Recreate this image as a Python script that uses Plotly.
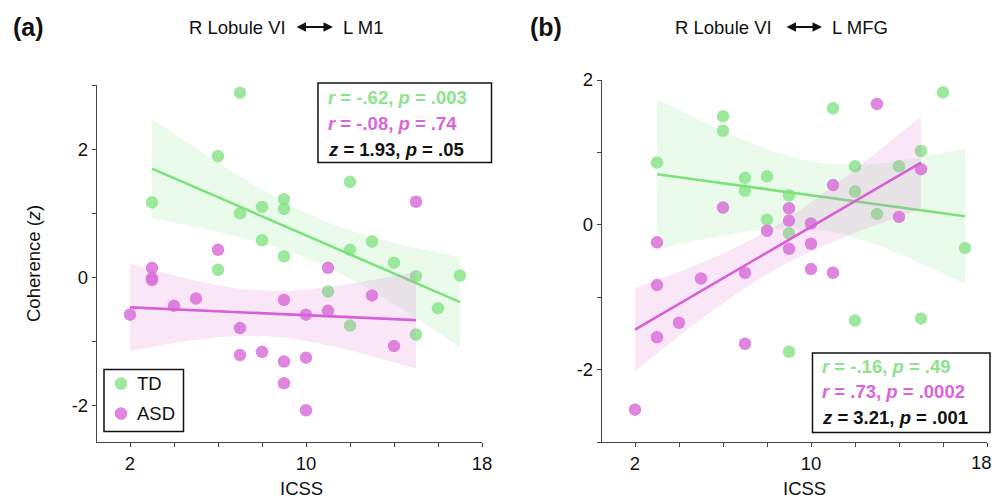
import numpy as np
import plotly.graph_objects as go

# ---------------- data ----------------
# Panel (a): R Lobule VI <-> L M1
a_td_x = [7, 6, 3, 7, 8, 9, 9, 12, 8, 9, 6, 12, 13, 14, 15, 17, 11, 16, 12, 15]
a_td_y = [2.88, 1.89, 1.17, 1.00, 1.10, 1.22, 1.07, 1.49, 0.58, 0.33, 0.12, 0.43, 0.56, 0.23, 0.02, 0.03, -0.22, -0.48, -0.75, -0.89]
a_asd_x = [2, 3, 3, 3, 4, 5, 6, 7, 7, 8, 9, 9, 9, 10, 10, 10, 11, 11, 13, 14, 15]
a_asd_y = [-0.58, 0.15, -0.01, -0.04, -0.44, -0.33, 0.43, -0.79, -1.21, -1.16, -0.35, -1.31, -1.65, -0.58, -1.25, -2.07, 0.15, -0.52, -0.28, -1.07, 1.18]

# Panel (b): R Lobule VI <-> L MFG
b_td_x = [3, 6, 6, 7, 7, 8, 8, 9, 9, 9, 11, 12, 12, 12, 13, 14, 15, 15, 16, 17]
b_td_y = [0.86, 1.50, 1.30, 0.65, 0.47, 0.67, 0.07, 0.41, -0.12, -1.75, 1.61, 0.81, 0.46, -1.32, 0.15, 0.81, 1.02, -1.29, 1.83, -0.32]
b_asd_x = [2, 3, 3, 3, 4, 5, 6, 7, 7, 8, 9, 9, 9, 10, 10, 10, 11, 11, 13, 14, 15]
b_asd_y = [-2.55, -0.24, -0.83, -1.55, -1.35, -0.74, 0.24, -0.66, -1.64, -0.08, 0.23, 0.06, -0.33, 0.02, -0.26, -0.61, 0.55, -0.66, 1.67, 0.11, 0.77]

groups = ["TD", "ASD"]
titles_left = ["R Lobule VI", "R Lobule VI"]
titles_right = ["L M1", "L MFG"]
panel_labels = ["(a)", "(b)"]
stats_a = ["<i>r</i> = -.62, <i>p</i> = .003", "<i>r</i> = -.08, <i>p</i> = .74", "<i>z</i> = 1.93, <i>p</i> = .05"]
stats_b = ["<i>r</i> = -.16, <i>p</i> = .49", "<i>r</i> = .73, <i>p</i> = .0002", "<i>z</i> = 3.21, <i>p</i> = .001"]
x_ticks = [2, 4, 6, 8, 10, 12, 14, 16, 18]
x_ticktext = ["2", "", "", "", "10", "", "", "", "18"]
x2_ticktext = ["2", "", "", "", "10", "", "", "", ""]   # "18" placed at the page edge below
ya_ticks = [-2, -1, 0, 1, 2, 3]
ya_ticktext = ["-2", "", "0", "", "2", ""]
yb_ticks = [-3, -2, -1, 0, 1, 2]
yb_ticktext = ["", "-2", "", "0", "", "2"]

# ---------------- style ----------------
W, H = 994, 500
FONT = "Liberation Sans, Arial, sans-serif"
FS = 18.5
C_TD_PT = "rgba(140,228,140,0.85)"
C_ASD_PT = "rgba(218,112,218,0.85)"
C_TD_LINE = "rgb(125,225,125)"
C_ASD_LINE = "rgb(214,96,214)"
C_TD_BAND = "rgba(144,232,144,0.18)"
C_ASD_BAND = "rgba(218,112,214,0.17)"
C_TD_TXT = "rgb(140,228,140)"
C_ASD_TXT = "rgb(218,100,218)"
AX = "#444444"


def px(x):
    return x / W


def py(y):
    return 1 - y / H


def fit_band(x, y, tval=2.1):
    x = np.asarray(x, float)
    y = np.asarray(y, float)
    n = len(x)
    b, a = np.polyfit(x, y, 1)
    xs = np.linspace(x.min(), x.max(), 100)
    yh = a + b * xs
    res = y - (a + b * x)
    s = np.sqrt(np.sum(res ** 2) / (n - 2))
    sxx = np.sum((x - x.mean()) ** 2)
    se = s * np.sqrt(1.0 / n + (xs - x.mean()) ** 2 / sxx)
    return xs, yh, yh - tval * se, yh + tval * se


fig = go.Figure()

panels = [
    ("x", "y", [(a_td_x, a_td_y), (a_asd_x, a_asd_y)]),
    ("x2", "y2", [(b_td_x, b_td_y), (b_asd_x, b_asd_y)]),
]
pt_cols = [C_TD_PT, C_ASD_PT]
line_cols = [C_TD_LINE, C_ASD_LINE]
band_cols = [C_TD_BAND, C_ASD_BAND]

for xa, ya, series in panels:
    for gi, (xv, yv) in enumerate(series):
        xs, yh, lo, hi = fit_band(xv, yv)
        fig.add_trace(go.Scatter(x=xv, y=yv, mode="markers", xaxis=xa, yaxis=ya,
                                 marker=dict(size=12.5, color=pt_cols[gi], line=dict(width=0)),
                                 showlegend=False, hoverinfo="skip"))
        fig.add_trace(go.Scatter(x=np.concatenate([xs, xs[::-1]]), y=np.concatenate([hi, lo[::-1]]),
                                 mode="lines", fill="toself", fillcolor=band_cols[gi],
                                 line=dict(width=0), xaxis=xa, yaxis=ya,
                                 showlegend=False, hoverinfo="skip"))
        fig.add_trace(go.Scatter(x=xs, y=yh, mode="lines", xaxis=xa, yaxis=ya,
                                 line=dict(color=line_cols[gi], width=2.6),
                                 showlegend=False, hoverinfo="skip"))

axis_common = dict(showline=True, linecolor=AX, linewidth=1.3, ticks="outside", ticklen=4,
                   tickwidth=1.2, tickcolor=AX, showgrid=False, zeroline=False, automargin=False,
                   tickfont=dict(family=FONT, size=FS, color="#111"), fixedrange=True)

fig.update_layout(
    width=W, height=H, autosize=False, margin=dict(l=0, r=0, t=0, b=0, pad=0, autoexpand=False),
    paper_bgcolor="white", plot_bgcolor="white",
    xaxis=dict(domain=[px(97), px(482)], range=[0.5, 18], tickvals=x_ticks, ticktext=x_ticktext,
               anchor="y", **axis_common),
    yaxis=dict(domain=[py(442.3), py(85)], range=[-2.57, 3.0], tickvals=ya_ticks, ticktext=ya_ticktext,
               anchor="x", **axis_common),
    xaxis2=dict(domain=[px(602), px(987)], range=[0.5, 18], tickvals=x_ticks, ticktext=x2_ticktext,
                anchor="y2", **axis_common),
    yaxis2=dict(domain=[py(442.3), py(80)], range=[-3.0, 2.0], tickvals=yb_ticks, ticktext=yb_ticktext,
                anchor="x2", **axis_common),
    showlegend=False,
)

ann = []
shapes = []


def text(x, y, t, size=FS, color="#111", xanchor="center", angle=0):
    ann.append(dict(x=px(x), y=py(y), xref="paper", yref="paper", text=t, showarrow=False,
                    xanchor=xanchor, yanchor="middle", textangle=angle, borderpad=0,
                    font=dict(family=FONT, size=size, color=color)))


# panel labels & titles
text(28, 27, "<b>(a)</b>", size=25)
text(546, 27, "<b>(b)</b>", size=25)
text(287, 27, titles_left[0], xanchor="right")
text(342, 27, titles_right[0], xanchor="left")
text(773, 27, titles_left[1], xanchor="right")
text(831, 27, titles_right[1], xanchor="left")
for x0, x1 in [(295, 333), (785, 822)]:
    ann.append(dict(x=px(x1), y=py(27), xref="paper", yref="paper", ax=-(x1 - x0), ay=0,
                    text="", showarrow=True, arrowhead=2, startarrowhead=2, arrowside="end+start",
                    arrowsize=0.95, startarrowsize=0.95, arrowwidth=2.0, arrowcolor="#111",
                    standoff=0, startstandoff=0))

# last tick label of panel (b), kept inside the page edge
text(993, 462, x_ticktext[-1], xanchor="right")

# axis titles
text(33, 264, "Coherence (<i>z</i>)", angle=-90)
text(301, 488, "ICSS")
text(804, 488, "ICSS")

# stat boxes
cols = [C_TD_TXT, C_ASD_TXT, "#111"]
shapes.append(dict(type="rect", xref="paper", yref="paper", x0=px(318), x1=px(491.5), y0=py(162.5), y1=py(83),
                   line=dict(color="#111", width=1.5), fillcolor="rgba(0,0,0,0)"))
for t, c, yy in zip(stats_a, cols, [97.5, 123.5, 149]):
    text(326.5, yy, "<b>" + t + "</b>", color=c, xanchor="left")
shapes.append(dict(type="rect", xref="paper", yref="paper", x0=px(812.5), x1=px(990), y0=py(432.5), y1=py(353),
                   line=dict(color="#111", width=1.5), fillcolor="rgba(0,0,0,0)"))
for t, c, yy in zip(stats_b, cols, [366.5, 391.5, 417]):
    text(820.5, yy, "<b>" + t + "</b>", color=c, xanchor="left")

# legend
shapes.append(dict(type="rect", xref="paper", yref="paper", x0=px(104), x1=px(183.5), y0=py(431.5), y1=py(369.5),
                   line=dict(color="#111", width=1.5), fillcolor="white"))
for g, c, yy in zip(groups, [C_TD_PT, C_ASD_PT], [383.5, 413.5]):
    shapes.append(dict(type="circle", xref="paper", yref="paper", xsizemode="pixel", ysizemode="pixel",
                       xanchor=px(121), yanchor=py(yy), x0=-6.3, x1=6.3, y0=-6.3, y1=6.3,
                       fillcolor=c, line=dict(width=0)))
    text(135.5, yy, g, xanchor="left")

fig.update_layout(annotations=ann, shapes=shapes)
fig.write_html("out.html")
